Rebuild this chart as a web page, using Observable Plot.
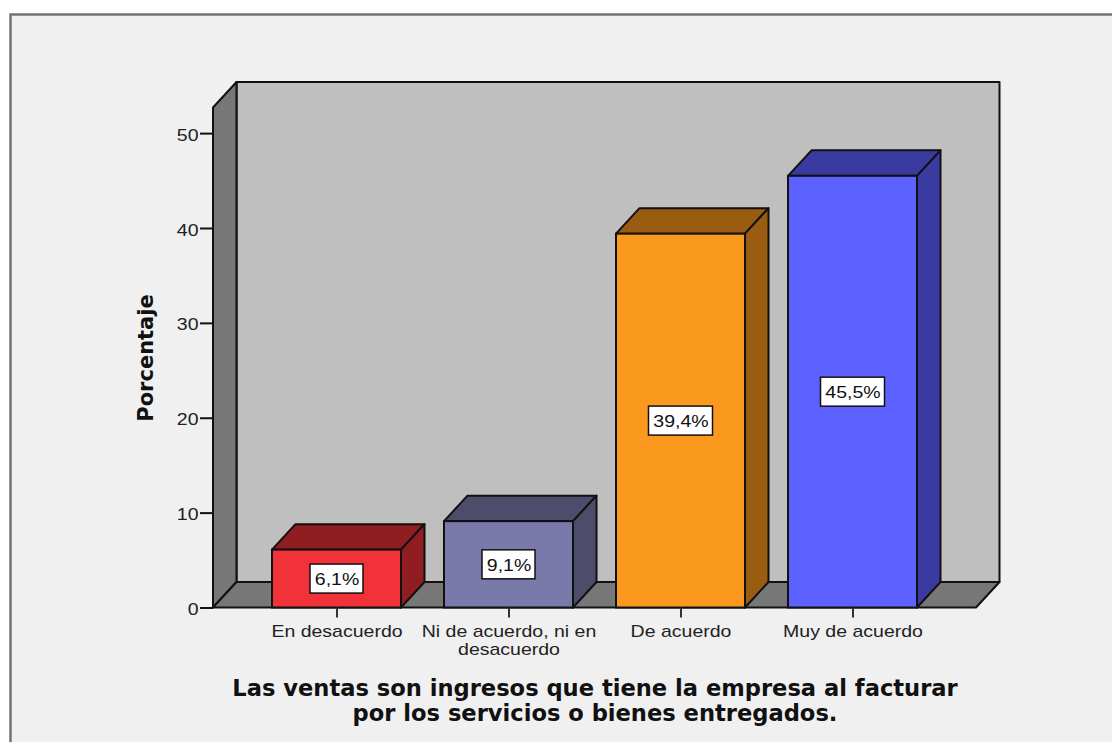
<!DOCTYPE html>
<html><head><meta charset="utf-8">
<script src="https://cdn.jsdelivr.net/npm/d3@7"></script>
<script src="https://cdn.jsdelivr.net/npm/@observablehq/plot@0.6"></script>
<style>html,body{margin:0;padding:0;background:#fff}svg{display:block}</style>
</head><body><div id="chart"></div>
<script>
const categories = ["En desacuerdo", "Ni de acuerdo, ni en\ndesacuerdo", "De acuerdo", "Muy de acuerdo"];
const values = [6.1, 9.1, 39.4, 45.5];
const valueLabels = ["6,1%", "9,1%", "39,4%", "45,5%"];
const yTicks = [0, 10, 20, 30, 40, 50];
const frontColors = ["#f23239", "#7a7aaa", "#fb991f", "#5c61ff"];
const shadeColors = ["#8f1d21", "#4d4d6b", "#9a5c10", "#3a3ba0"];
const xTitle = "Las ventas son ingresos que tiene la empresa al facturar\npor los servicios o bienes entregados.";
const yTitle = "Porcentaje";

const rows = categories.map((c, i) => ({category: c, value: values[i], label: valueLabels[i], shade: shadeColors[i]}));
const DX = 23.5, DY = 25.5, INK = "#111";
const pts = a => a.map(p => p.join(",")).join(" ");

function polygon(g, points, fill) {
  g.append("polygon").attr("points", pts(points)).attr("fill", fill)
    .attr("stroke", INK).attr("stroke-width", 2).attr("stroke-linejoin", "round");
}

function panel(index, {x, y}, values, {width, height, marginLeft, marginRight}) {
  const g = d3.create("svg:g");
  g.append("rect").attr("x", 10.5).attr("y", 14.5).attr("width", width + 20).attr("height", height + 20)
    .attr("fill", "#f0f0f0").attr("stroke", "#737373").attr("stroke-width", 2.5);
  const l = marginLeft, r = width - marginRight, b = y(0), t = y(y.domain()[1]);
  polygon(g, [[l + DX, t - DY], [r + DX, t - DY], [r + DX, b - DY], [l + DX, b - DY]], "#bfbfbf");
  polygon(g, [[l, t], [l + DX, t - DY], [l + DX, b - DY], [l, b]], "#777");
  polygon(g, [[l, b], [l + DX, b - DY], [r + DX, b - DY], [r, b]], "#777");
  return g.node();
}

function cubes(index, {x, y}) {
  const g = d3.create("svg:g");
  const w = x.bandwidth();
  for (const d of rows) {
    const a = x(d.category), v = y(d.value), b = y(0);
    polygon(g, [[a, v], [a + DX, v - DY], [a + w + DX, v - DY], [a + w, v]], d.shade);
    polygon(g, [[a + w, v], [a + w + DX, v - DY], [a + w + DX, b - DY], [a + w, b]], d.shade);
  }
  return g.node();
}

function boxes(index, {x, y}) {
  const g = d3.create("svg:g");
  const bh = 29;
  for (const d of rows) {
    const bw = 9 + 11 * d.label.length;
    g.append("rect")
      .attr("x", x(d.category) + x.bandwidth() / 2 - bw / 2)
      .attr("y", y(d.value / 2) - bh / 2)
      .attr("width", bw).attr("height", bh)
      .attr("fill", "#fff").attr("stroke", INK).attr("stroke-width", 1.5);
  }
  return g.node();
}

const chart = Plot.plot({
  width: 1112, height: 742,
  marginLeft: 213, marginRight: 136, marginTop: 107.5, marginBottom: 134.5,
  style: {background: "#fff", fontFamily: "Liberation Sans", overflow: "hidden"},
  x: {domain: categories, paddingInner: 0.25, paddingOuter: 0.343, label: null},
  y: {domain: [0, 52.7], label: null},
  color: {domain: categories, range: frontColors},
  marks: [
    panel,
    cubes,
    Plot.barY(rows, {x: "category", y: "value", fill: "category", stroke: INK, strokeWidth: 2}),
    Plot.axisY({ticks: yTicks, tickSize: 13, tickPadding: 2, fontSize: 16, stroke: INK, strokeWidth: 2, color: "#222", label: null}),
    Plot.axisX({tickSize: 10, tickPadding: 6, fontSize: 16, lineHeight: 1.15, stroke: "#333", strokeWidth: 2, color: "#222", label: null}),
    boxes,
    Plot.text(rows, {x: "category", y: d => d.value / 2, dy: 1, text: "label", fontSize: 16, fill: "#111", className: "value-label"}),
    Plot.text([yTitle], {frameAnchor: "left", textAnchor: "middle", rotate: -90, dx: -67, fontFamily: "DejaVu Sans", fontWeight: "bold", fontSize: 21, fill: "#111"}),
    Plot.text([xTitle], {frameAnchor: "bottom", dy: 113, fontFamily: "DejaVu Sans", fontWeight: "bold", fontSize: 22.6, lineHeight: 1.1, fill: "#111"})
  ]
});
// The reference's sans labels are horizontally wide: widen the glyphs about each text's own anchor.
chart.querySelectorAll('g[aria-label="y-axis tick label"] text, g[aria-label="x-axis tick label"] text, g.value-label text')
  .forEach(t => t.setAttribute("transform", (t.getAttribute("transform") || "") + " scale(1.22,1)"));
// Tick labels on the y axis sit slightly under their tick in the reference.
chart.querySelectorAll('g[aria-label="y-axis tick label"] text')
  .forEach(t => t.setAttribute("transform", "translate(0,2) " + t.getAttribute("transform")));
document.getElementById("chart").append(chart);
</script></body></html>
